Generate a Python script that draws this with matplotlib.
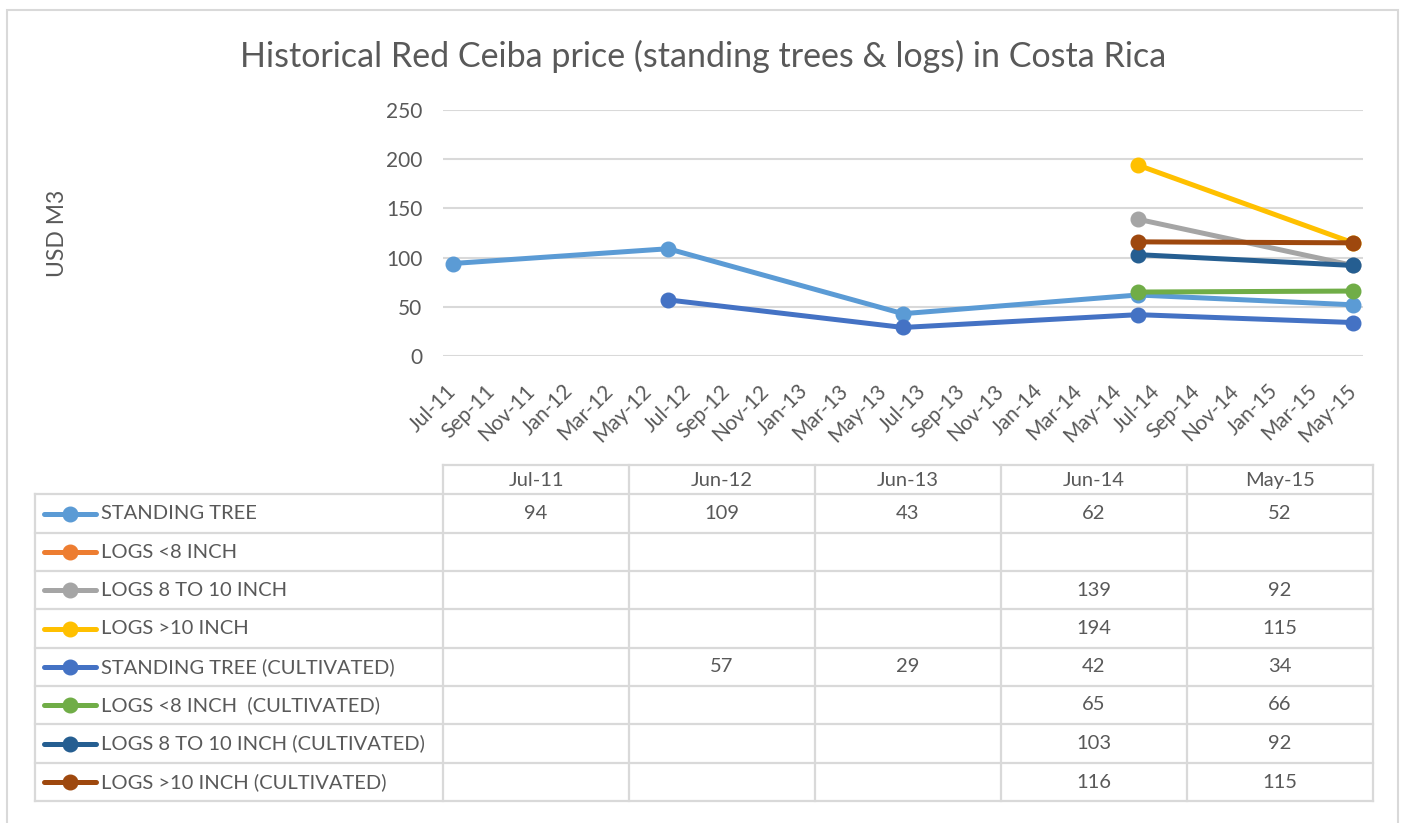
import numpy as np
import matplotlib.pyplot as plt
from datetime import datetime
from matplotlib.lines import Line2D
from matplotlib.patches import Rectangle

nan = np.nan

# columns of the data table (dates of the observations)
periods = ["Jul-11", "Jun-12", "Jun-13", "Jun-14", "May-15"]

series_names = [
    "STANDING TREE",
    "LOGS <8 INCH",
    "LOGS 8 TO 10 INCH",
    "LOGS >10 INCH",
    "STANDING TREE (CULTIVATED)",
    "LOGS <8 INCH  (CULTIVATED)",
    "LOGS 8 TO 10 INCH (CULTIVATED)",
    "LOGS >10 INCH (CULTIVATED)",
]
standing_tree = [94, 109, 43, 62, 52]
logs_lt8 = [nan, nan, nan, nan, nan]
logs_8_10 = [nan, nan, nan, 139, 92]
logs_gt10 = [nan, nan, nan, 194, 115]
standing_tree_cult = [nan, 57, 29, 42, 34]
logs_lt8_cult = [nan, nan, nan, 65, 66]
logs_8_10_cult = [nan, nan, nan, 103, 92]
logs_gt10_cult = [nan, nan, nan, 116, 115]

series_values = [standing_tree, logs_lt8, logs_8_10, logs_gt10,
                 standing_tree_cult, logs_lt8_cult, logs_8_10_cult, logs_gt10_cult]
colors = ["#5B9BD5", "#ED7D31", "#A5A5A5", "#FFC000",
          "#4472C4", "#70AD47", "#255E91", "#9E480E"]

y_ticks = [0, 50, 100, 150, 200, 250]

TXT = "#595959"
GRID = "#D9D9D9"
FONT = ["Lato", "DejaVu Sans"]
plt.rcParams["font.family"] = FONT

W, H = 1407, 823


def fx(px):
    return px / W


def fy(py):
    return 1 - py / H


def month_index(label):
    d = datetime.strptime(label, "%b-%y")
    return d.year * 12 + d.month - 1


def month_label(idx):
    return datetime(idx // 12, idx % 12 + 1, 1).strftime("%b-%y")


x_months = [month_index(p) for p in periods]
first, last = x_months[0], x_months[-1]

fig = plt.figure(figsize=(W / 100, H / 100), dpi=100)
fig.patch.set_facecolor("white")

# outer chart border
fig.add_artist(Rectangle((fx(7), fy(840)), fx(1398) - fx(7), fy(10) - fy(840),
                         transform=fig.transFigure, fill=False,
                         edgecolor=GRID, linewidth=1.5))

fig.text(0.5, fy(56), "Historical Red Ceiba price (standing trees & logs) in Costa Rica",
         ha="center", va="center", fontsize=24.5, color=TXT)

ax = fig.add_axes([fx(443), fy(356), fx(1363) - fx(443), fy(110) - fy(356)])
for name, vals, c in zip(series_names, series_values, colors):
    ax.plot(x_months, vals, color=c, linewidth=3.6, marker="o",
            markersize=10.5, solid_capstyle="round", zorder=3)

ax.set_xlim(first - 0.5, last + 0.5)
ax.set_ylim(0, 250)
ax.set_yticks(y_ticks)
ax.grid(axis="y", color=GRID, linewidth=1.5)
ax.set_axisbelow(True)
for s in ax.spines.values():
    s.set_visible(False)
ax.tick_params(axis="y", length=0, pad=15, labelsize=15, labelcolor=TXT)

tick_pos = list(range(first, last + 1, 2))
ax.set_xticks(tick_pos)
ax.set_xticklabels([month_label(t) for t in tick_pos], rotation=45,
                   ha="right", va="center", rotation_mode="anchor")
ax.tick_params(axis="x", length=0, pad=23, labelsize=15, labelcolor=TXT)

fig.text(fx(57), fy(233), "USD M3", rotation=90, ha="center", va="center",
         fontsize=16.5, color=TXT)

# data table with legend keys
col_edges = [443, 629, 815, 1001, 1187, 1373]
row_edges = [494, 533, 571, 609, 648, 686, 724, 763, 801]
head_top = 465
lab_left = 35
tlw = 1.6
tfs = 14.5

for xe in col_edges:
    fig.add_artist(Line2D([fx(xe), fx(xe)], [fy(head_top), fy(row_edges[-1])],
                          color=GRID, linewidth=tlw))
fig.add_artist(Line2D([fx(col_edges[0]), fx(col_edges[-1])], [fy(head_top), fy(head_top)],
                      color=GRID, linewidth=tlw))
for ye in row_edges:
    fig.add_artist(Line2D([fx(lab_left), fx(col_edges[-1])], [fy(ye), fy(ye)],
                          color=GRID, linewidth=tlw))
fig.add_artist(Line2D([fx(lab_left), fx(lab_left)], [fy(row_edges[0]), fy(row_edges[-1])],
                      color=GRID, linewidth=tlw))

for j, p in enumerate(periods):
    cx = (col_edges[j] + col_edges[j + 1]) / 2
    fig.text(fx(cx), fy((head_top + row_edges[0]) / 2 + 1), p, ha="center", va="center",
             fontsize=tfs, color=TXT)

for i, (name, vals, c) in enumerate(zip(series_names, series_values, colors)):
    cy = (row_edges[i] + row_edges[i + 1]) / 2
    fig.add_artist(Line2D([fx(44), fx(96)], [fy(cy), fy(cy)], color=c, linewidth=3.6,
                          solid_capstyle="round"))
    fig.add_artist(Line2D([fx(70)], [fy(cy)], color=c, marker="o", markersize=10.5,
                          linestyle="none"))
    fig.text(fx(101), fy(cy), name, ha="left", va="center", fontsize=tfs, color=TXT)
    for j, v in enumerate(vals):
        if np.isnan(v):
            continue
        cx = (col_edges[j] + col_edges[j + 1]) / 2
        fig.text(fx(cx), fy(cy), f"{v:g}", ha="center", va="center",
                 fontsize=tfs, color=TXT)

fig.savefig("out.png", dpi=100)
